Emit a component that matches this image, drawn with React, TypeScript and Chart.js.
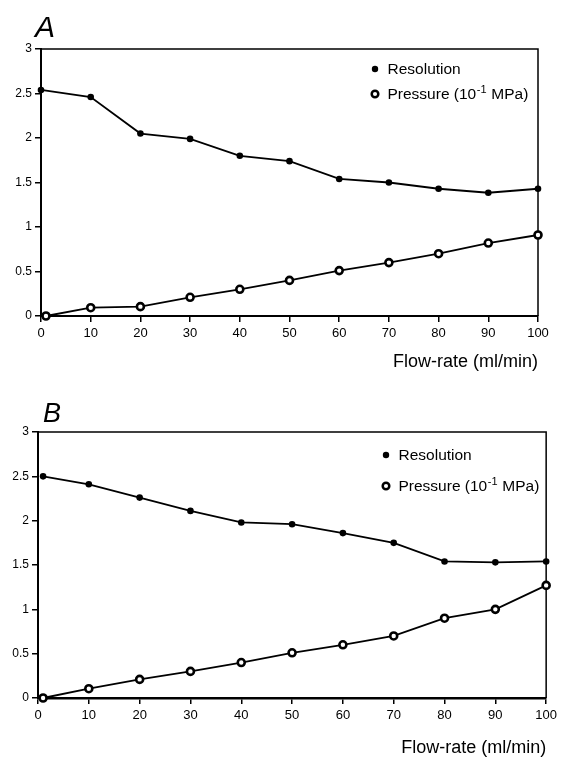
import React, { useEffect, useRef } from "react";
import { Chart, registerables } from "chart.js";

Chart.register(...registerables);

// ---- data ----
const xTicks = [0, 10, 20, 30, 40, 50, 60, 70, 80, 90, 100];
const yTicks = [0, 0.5, 1, 1.5, 2, 2.5, 3];

const flowResA = [0, 10, 20, 30, 40, 50, 60, 70, 80, 90, 100];
const resolutionA = [2.54, 2.46, 2.05, 1.99, 1.8, 1.74, 1.54, 1.5, 1.43, 1.385, 1.43];
const flowPressA = [1, 10, 20, 30, 40, 50, 60, 70, 80, 90, 100];
const pressureA = [0, 0.093, 0.105, 0.21, 0.3, 0.4, 0.51, 0.6, 0.7, 0.82, 0.91];

const flowB = [1, 10, 20, 30, 40, 50, 60, 70, 80, 90, 100];
const resolutionB = [2.5, 2.41, 2.26, 2.11, 1.98, 1.96, 1.86, 1.75, 1.54, 1.53, 1.54];
const pressureB = [0, 0.105, 0.21, 0.3, 0.4, 0.51, 0.6, 0.7, 0.9, 1.0, 1.27];

const xTitle = "Flow-rate (ml/min)";
const legendResolution = "Resolution";
const legendPressureParts = ["Pressure (10", "-1", " MPa)"];
const panelLabels = ["A", "B"];

const FONT = "'Liberation Sans', Arial, Helvetica, sans-serif";

type PanelCfg = {
  height: number;
  yWidth: number;
  padTop: number;
  padRight: number;
  padBottom: number;
  xHeight: number;
  xBorder: number;
  label: string;
  labelSize: number;
  labelX: number;
  labelY: number;
  legX: number;
  legY: number;
  legGap: number;
  resX: number[];
  res: number[];
  pressX: number[];
  press: number[];
};

function buildConfig(cfg: PanelCfg): any {
  const decorPlugin = {
    id: "decor",
    beforeDatasetsDraw(chart: any) {
      const { ctx, chartArea } = chart;
      ctx.save();
      ctx.strokeStyle = "#000";
      ctx.lineWidth = 1.5;
      ctx.beginPath();
      ctx.moveTo(chartArea.left, chartArea.top);
      ctx.lineTo(chartArea.right, chartArea.top);
      ctx.lineTo(chartArea.right, chartArea.bottom);
      ctx.stroke();
      ctx.restore();
    },
    afterDraw(chart: any) {
      const { ctx } = chart;
      ctx.save();
      // panel label
      ctx.fillStyle = "#000";
      ctx.font = `italic ${cfg.labelSize}px ${FONT}`;
      ctx.textBaseline = "alphabetic";
      ctx.textAlign = "left";
      ctx.fillText(cfg.label, cfg.labelX, cfg.labelY);

      // legend
      const lx = cfg.legX;
      const ly1 = cfg.legY;
      const ly2 = cfg.legY + cfg.legGap;
      ctx.beginPath();
      ctx.arc(lx, ly1, 3.2, 0, Math.PI * 2);
      ctx.fill();
      ctx.beginPath();
      ctx.arc(lx, ly2, 3.3, 0, Math.PI * 2);
      ctx.fillStyle = "#fff";
      ctx.fill();
      ctx.lineWidth = 2.5;
      ctx.strokeStyle = "#000";
      ctx.stroke();
      ctx.fillStyle = "#000";
      ctx.textBaseline = "middle";
      const tx = lx + 12.5;
      ctx.font = `15.5px ${FONT}`;
      ctx.fillText(legendResolution, tx, ly1 + 0.5);
      ctx.fillText(legendPressureParts[0], tx, ly2 + 0.5);
      const w = ctx.measureText(legendPressureParts[0]).width + 0.5;
      ctx.font = `11px ${FONT}`;
      ctx.fillText(legendPressureParts[1], tx + w, ly2 - 4);
      const w2 = ctx.measureText(legendPressureParts[1]).width + 0.5;
      ctx.font = `15.5px ${FONT}`;
      ctx.fillText(legendPressureParts[2], tx + w + w2, ly2 + 0.5);
      ctx.restore();
    },
  };

  return {
    type: "line",
    data: {
      datasets: [
        {
          label: "Resolution",
          data: cfg.resX.map((x, i) => ({ x, y: cfg.res[i] })),
          borderColor: "#000",
          backgroundColor: "#000",
          borderWidth: 1.8,
          pointRadius: 3.3,
          pointBorderWidth: 0,
          pointBackgroundColor: "#000",
          tension: 0,
          clip: false,
        },
        {
          label: "Pressure",
          data: cfg.pressX.map((x, i) => ({ x, y: cfg.press[i] })),
          borderColor: "#000",
          backgroundColor: "#fff",
          borderWidth: 1.8,
          pointRadius: 3.5,
          pointBorderWidth: 2.6,
          pointBorderColor: "#000",
          pointBackgroundColor: "#fff",
          tension: 0,
          clip: false,
        },
      ],
    },
    options: {
      responsive: false,
      animation: false,
      devicePixelRatio: 1,
      layout: {
        padding: { left: 0, top: cfg.padTop, right: cfg.padRight, bottom: cfg.padBottom },
      },
      plugins: {
        legend: { display: false },
        tooltip: { enabled: false },
        title: { display: false },
      },
      scales: {
        x: {
          type: "linear",
          min: 0,
          max: 100,
          afterBuildTicks: (scale: any) => {
            scale.ticks = xTicks.map((v) => ({ value: v }));
          },
          afterFit: (scale: any) => {
            scale.height = cfg.xHeight;
          },
          grid: {
            display: true,
            drawOnChartArea: false,
            drawTicks: true,
            tickLength: 6,
            color: "#000",
            lineWidth: 1.5,
          },
          border: { display: true, color: "#000", width: cfg.xBorder },
          ticks: {
            color: "#000",
            font: { size: 13, family: FONT },
            padding: 4,
            maxRotation: 0,
            autoSkip: false,
            callback: (v: any) => String(v),
          },
          title: {
            display: true,
            text: xTitle,
            align: "end",
            color: "#000",
            font: { size: 18, family: FONT },
            padding: { top: 0, bottom: 0 },
          },
        },
        y: {
          type: "linear",
          min: 0,
          max: 3,
          afterBuildTicks: (scale: any) => {
            scale.ticks = yTicks.map((v) => ({ value: v }));
          },
          afterFit: (scale: any) => {
            scale.width = cfg.yWidth;
          },
          grid: {
            display: true,
            drawOnChartArea: false,
            drawTicks: true,
            tickLength: 6,
            color: "#000",
            lineWidth: 1.5,
          },
          border: { display: true, color: "#000", width: 2 },
          ticks: {
            color: "#000",
            font: { size: 12, family: FONT },
            padding: 3,
            autoSkip: false,
            callback: (v: any) => String(v),
          },
        },
      },
    },
    plugins: [decorPlugin],
  };
}

function Panel({ cfg }: { cfg: PanelCfg }) {
  const ref = useRef<HTMLCanvasElement | null>(null);
  useEffect(() => {
    if (!ref.current) return;
    const chart = new Chart(ref.current, buildConfig(cfg));
    return () => chart.destroy();
  }, []);
  return (
    <canvas
      ref={ref}
      width={561}
      height={cfg.height}
      style={{ display: "block", width: 561, height: cfg.height }}
    />
  );
}

const cfgA: PanelCfg = {
  height: 380,
  yWidth: 41,
  padTop: 49,
  padRight: 23,
  padBottom: 7,
  xHeight: 57,
  xBorder: 2,
  label: panelLabels[0],
  labelSize: 30,
  labelX: 35,
  labelY: 37,
  legX: 375,
  legY: 69,
  legGap: 25,
  resX: flowResA,
  res: resolutionA,
  pressX: flowPressA,
  press: pressureA,
};

const cfgB: PanelCfg = {
  height: 379,
  yWidth: 38,
  padTop: 52,
  padRight: 13,
  padBottom: 0,
  xHeight: 61,
  xBorder: 2.5,
  label: panelLabels[1],
  labelSize: 27,
  labelX: 43,
  labelY: 42,
  legX: 386,
  legY: 75,
  legGap: 31,
  resX: flowB,
  res: resolutionB,
  pressX: flowB,
  press: pressureB,
};

export default function App() {
  return (
    <div
      style={{
        position: "absolute",
        left: 0,
        top: 0,
        width: 561,
        height: 759,
        background: "#fff",
      }}
    >
      <Panel cfg={cfgA} />
      <Panel cfg={cfgB} />
    </div>
  );
}
